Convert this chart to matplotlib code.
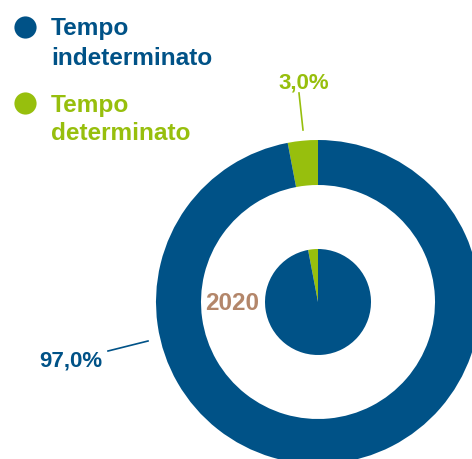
import matplotlib
matplotlib.use("Agg")
import matplotlib.pyplot as plt

W, H = 472, 459
categories = ["Tempo\nindeterminato", "Tempo\ndeterminato"]
values = [97.0, 3.0]
labels = ["97,0%", "3,0%"]
year = "2020"
colors = ["#005287", "#97BF0D"]
year_color = "#B3866A"

plt.rcParams['font.family'] = ['Liberation Sans', 'DejaVu Sans']

fig = plt.figure(figsize=(W / 100, H / 100), dpi=100)
ax = fig.add_axes([0, 0, 1, 1])

def Y(y):
    return H - y

cx, cy = 318, Y(302)
# outer ring: order so the small share sits just left of 12 o'clock
ax.pie([values[1], values[0]], colors=[colors[1], colors[0]], startangle=90,
       counterclock=True, center=(cx, cy), radius=162,
       wedgeprops=dict(width=45, linewidth=0))
ax.pie([values[1], values[0]], colors=[colors[1], colors[0]], startangle=90,
       counterclock=True, center=(cx, cy), radius=53,
       wedgeprops=dict(linewidth=0))

ax.set_xlim(0, W)
ax.set_ylim(0, H)
ax.set_aspect('equal')
ax.axis('off')

# legend
leg_y = [(35, 65), (112, 140)]
dot_y = [27, 103]
for i, cat in enumerate(categories):
    l1, l2 = cat.split("\n")
    ax.scatter([25], [Y(dot_y[i])], s=255, color=colors[i], linewidths=0)
    ax.text(51, Y(leg_y[i][0]), l1, color=colors[i], fontsize=17.6, fontweight='bold', va='baseline', ha='left')
    ax.text(51, Y(leg_y[i][1]), l2, color=colors[i], fontsize=17.6, fontweight='bold', va='baseline', ha='left')

# data labels
ax.text(304, Y(88), labels[1], color=colors[1], fontsize=16, fontweight='bold', ha='center', va='baseline')
ax.plot([299, 303], [Y(93), Y(130)], color=colors[1], lw=1.2)
ax.text(71, Y(367), labels[0], color=colors[0], fontsize=16, fontweight='bold', ha='center', va='baseline')
ax.plot([108, 148], [Y(351), Y(341)], color=colors[0], lw=1.2)

ax.text(232, Y(310), year, color=year_color, fontsize=17.5, fontweight='bold', ha='center', va='baseline')

fig.savefig("out.png", dpi=100)
